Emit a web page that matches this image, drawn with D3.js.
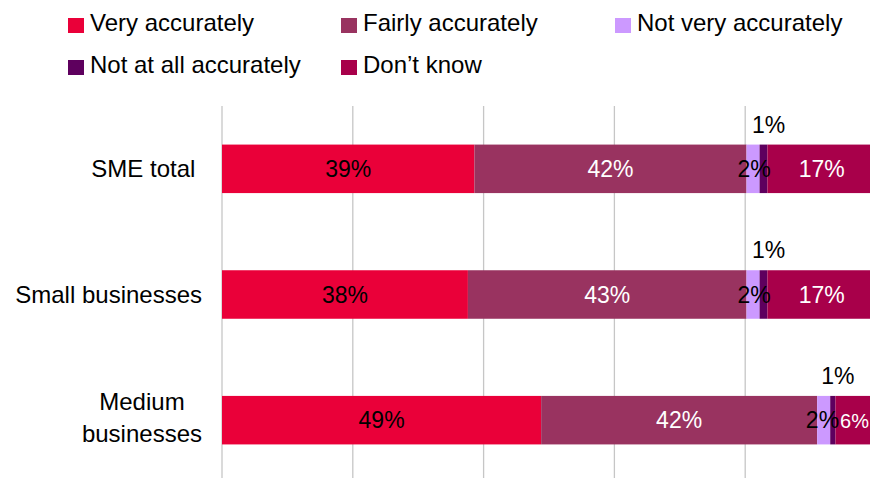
<!DOCTYPE html>
<html>
<head>
<meta charset="utf-8">
<script src="https://cdn.jsdelivr.net/npm/d3@7/dist/d3.min.js"></script>
<style>
  html, body { margin: 0; padding: 0; background: #ffffff; }
  svg text { font-family: "Liberation Sans", Arial, sans-serif; white-space: pre; }
</style>
</head>
<body>
<svg id="chart" width="870" height="478"></svg>
<script>
// ---- data ----
const categories = ["SME total ", "Small businesses", "Medium businesses"];
const seriesNames = ["Very accurately", "Fairly accurately", "Not very accurately", "Not at all accurately", "Don\u2019t know"];
const veryAccurately     = [38.6, 37.6, 48.8];
const fairlyAccurately   = [41.6, 42.6, 42.2];
const notVeryAccurately  = [2.0, 2.0, 2.0];
const notAtAllAccurately = [1.2, 1.2, 0.8];
const dontKnow           = [16.6, 16.6, 6.2];
const xTicks = [0, 20, 40, 60, 80, 100];

const colors = ["#EA0039", "#993360", "#CC99FF", "#5E005E", "#A8004A"];
const labelColors = ["#000000", "#ffffff", "#000000", "#000000", "#ffffff"];

const seriesValues = [veryAccurately, fairlyAccurately, notVeryAccurately, notAtAllAccurately, dontKnow];

const svg = d3.select("#chart");
const W = 870, H = 478;

const x = d3.scaleLinear().domain([0, 100]).range([222, 876]);
const y = d3.scaleBand().domain(categories).range([106, 483]).paddingInner(0.614).paddingOuter(0.307);

// gridlines
svg.append("g").selectAll("line").data(xTicks).join("line")
  .attr("x1", d => x(d)).attr("x2", d => x(d))
  .attr("y1", 106).attr("y2", 483)
  .attr("stroke", "#c6c6c6").attr("stroke-width", 1.3);

// stacked data
const rows = categories.map((c, i) => {
  const o = { cat: c };
  seriesNames.forEach((s, k) => o[s] = seriesValues[k][i]);
  return o;
});
const stack = d3.stack().keys(seriesNames)(rows);

const gBars = svg.append("g");
stack.forEach((layer, k) => {
  gBars.append("g").attr("fill", colors[k])
    .selectAll("rect").data(layer).join("rect")
    .attr("x", d => x(d[0]))
    .attr("width", d => x(d[1]) - x(d[0]))
    .attr("y", d => y(d.data.cat))
    .attr("height", y.bandwidth());
});

// data labels
const gLab = svg.append("g").attr("font-size", 23).attr("text-anchor", "middle");
categories.forEach((c, i) => {
  let prev = null; // previous in-bar label of this row
  stack.forEach((layer, k) => {
    const d = layer[i];
    const v = Math.round(d[1] - d[0]);
    const cx = (x(d[0]) + x(d[1])) / 2;
    const cy = y(c) + y.bandwidth() / 2;
    if (k === 3) {
      gLab.append("text").attr("x", cx + 5).attr("y", y(c) - 12)
        .attr("fill", "#000").text(v + "%");
      return;
    }
    const t = gLab.append("text").attr("x", cx + (k === 2 ? 1 : 0)).attr("y", cy + 8)
      .attr("fill", labelColors[k]).text(v + "%");
    let w = t.node().getComputedTextLength();
    const rightLimit = W - 1;
    if (+t.attr("x") + w / 2 > rightLimit) {
      // fit between previous label and the picture's right edge
      if (prev) {
        const pw = prev.node().getComputedTextLength();
        const pRight = +prev.attr("x") + pw / 2;
        const avail = rightLimit - pRight - 1;
        if (w > avail) {
          const fs = Math.max(20, 23 * avail / w);
          t.attr("font-size", fs);
          w = t.node().getComputedTextLength();
        }
        const left = rightLimit - w;
        if (pRight + 1 > left) prev.attr("x", +prev.attr("x") - (pRight + 1 - left));
      }
      t.attr("x", rightLimit - w / 2);
    }
    prev = t;
  });
});

// category labels
const gCat = svg.append("g").attr("font-size", 24).attr("fill", "#000");
const wrapMap = { "Medium businesses": ["Medium", "businesses"] };
categories.forEach(c => {
  const cy = y(c) + y.bandwidth() / 2;
  const lines = wrapMap[c] || [c];
  const lh = 31.5;
  const t = gCat.append("text");
  if (lines.length === 1) {
    t.attr("x", 202).attr("y", cy + 8).attr("text-anchor", "end").text(c);
  } else {
    const widths = lines.map(l => {
      const tmp = gCat.append("text").text(l);
      const w = tmp.node().getComputedTextLength();
      tmp.remove();
      return w;
    });
    const maxW = d3.max(widths);
    const center = 202 - maxW / 2;
    t.attr("text-anchor", "middle");
    lines.forEach((l, j) => {
      t.append("tspan").attr("x", center)
        .attr("y", cy + 8 - (lines.length - 1) * lh / 2 + j * lh - 2)
        .text(l);
    });
  }
});

// legend
const legendPos = [[68, 18], [341, 18], [615, 18], [68, 60], [341, 60]];
const gLeg = svg.append("g").attr("font-size", 24);
seriesNames.forEach((s, k) => {
  const [lx, ly] = legendPos[k];
  gLeg.append("rect").attr("x", lx).attr("y", ly).attr("width", 16).attr("height", 15).attr("fill", colors[k]);
  gLeg.append("text").attr("x", lx + 22).attr("y", ly + 13).attr("fill", "#000").text(s);
});
</script>
</body>
</html>
